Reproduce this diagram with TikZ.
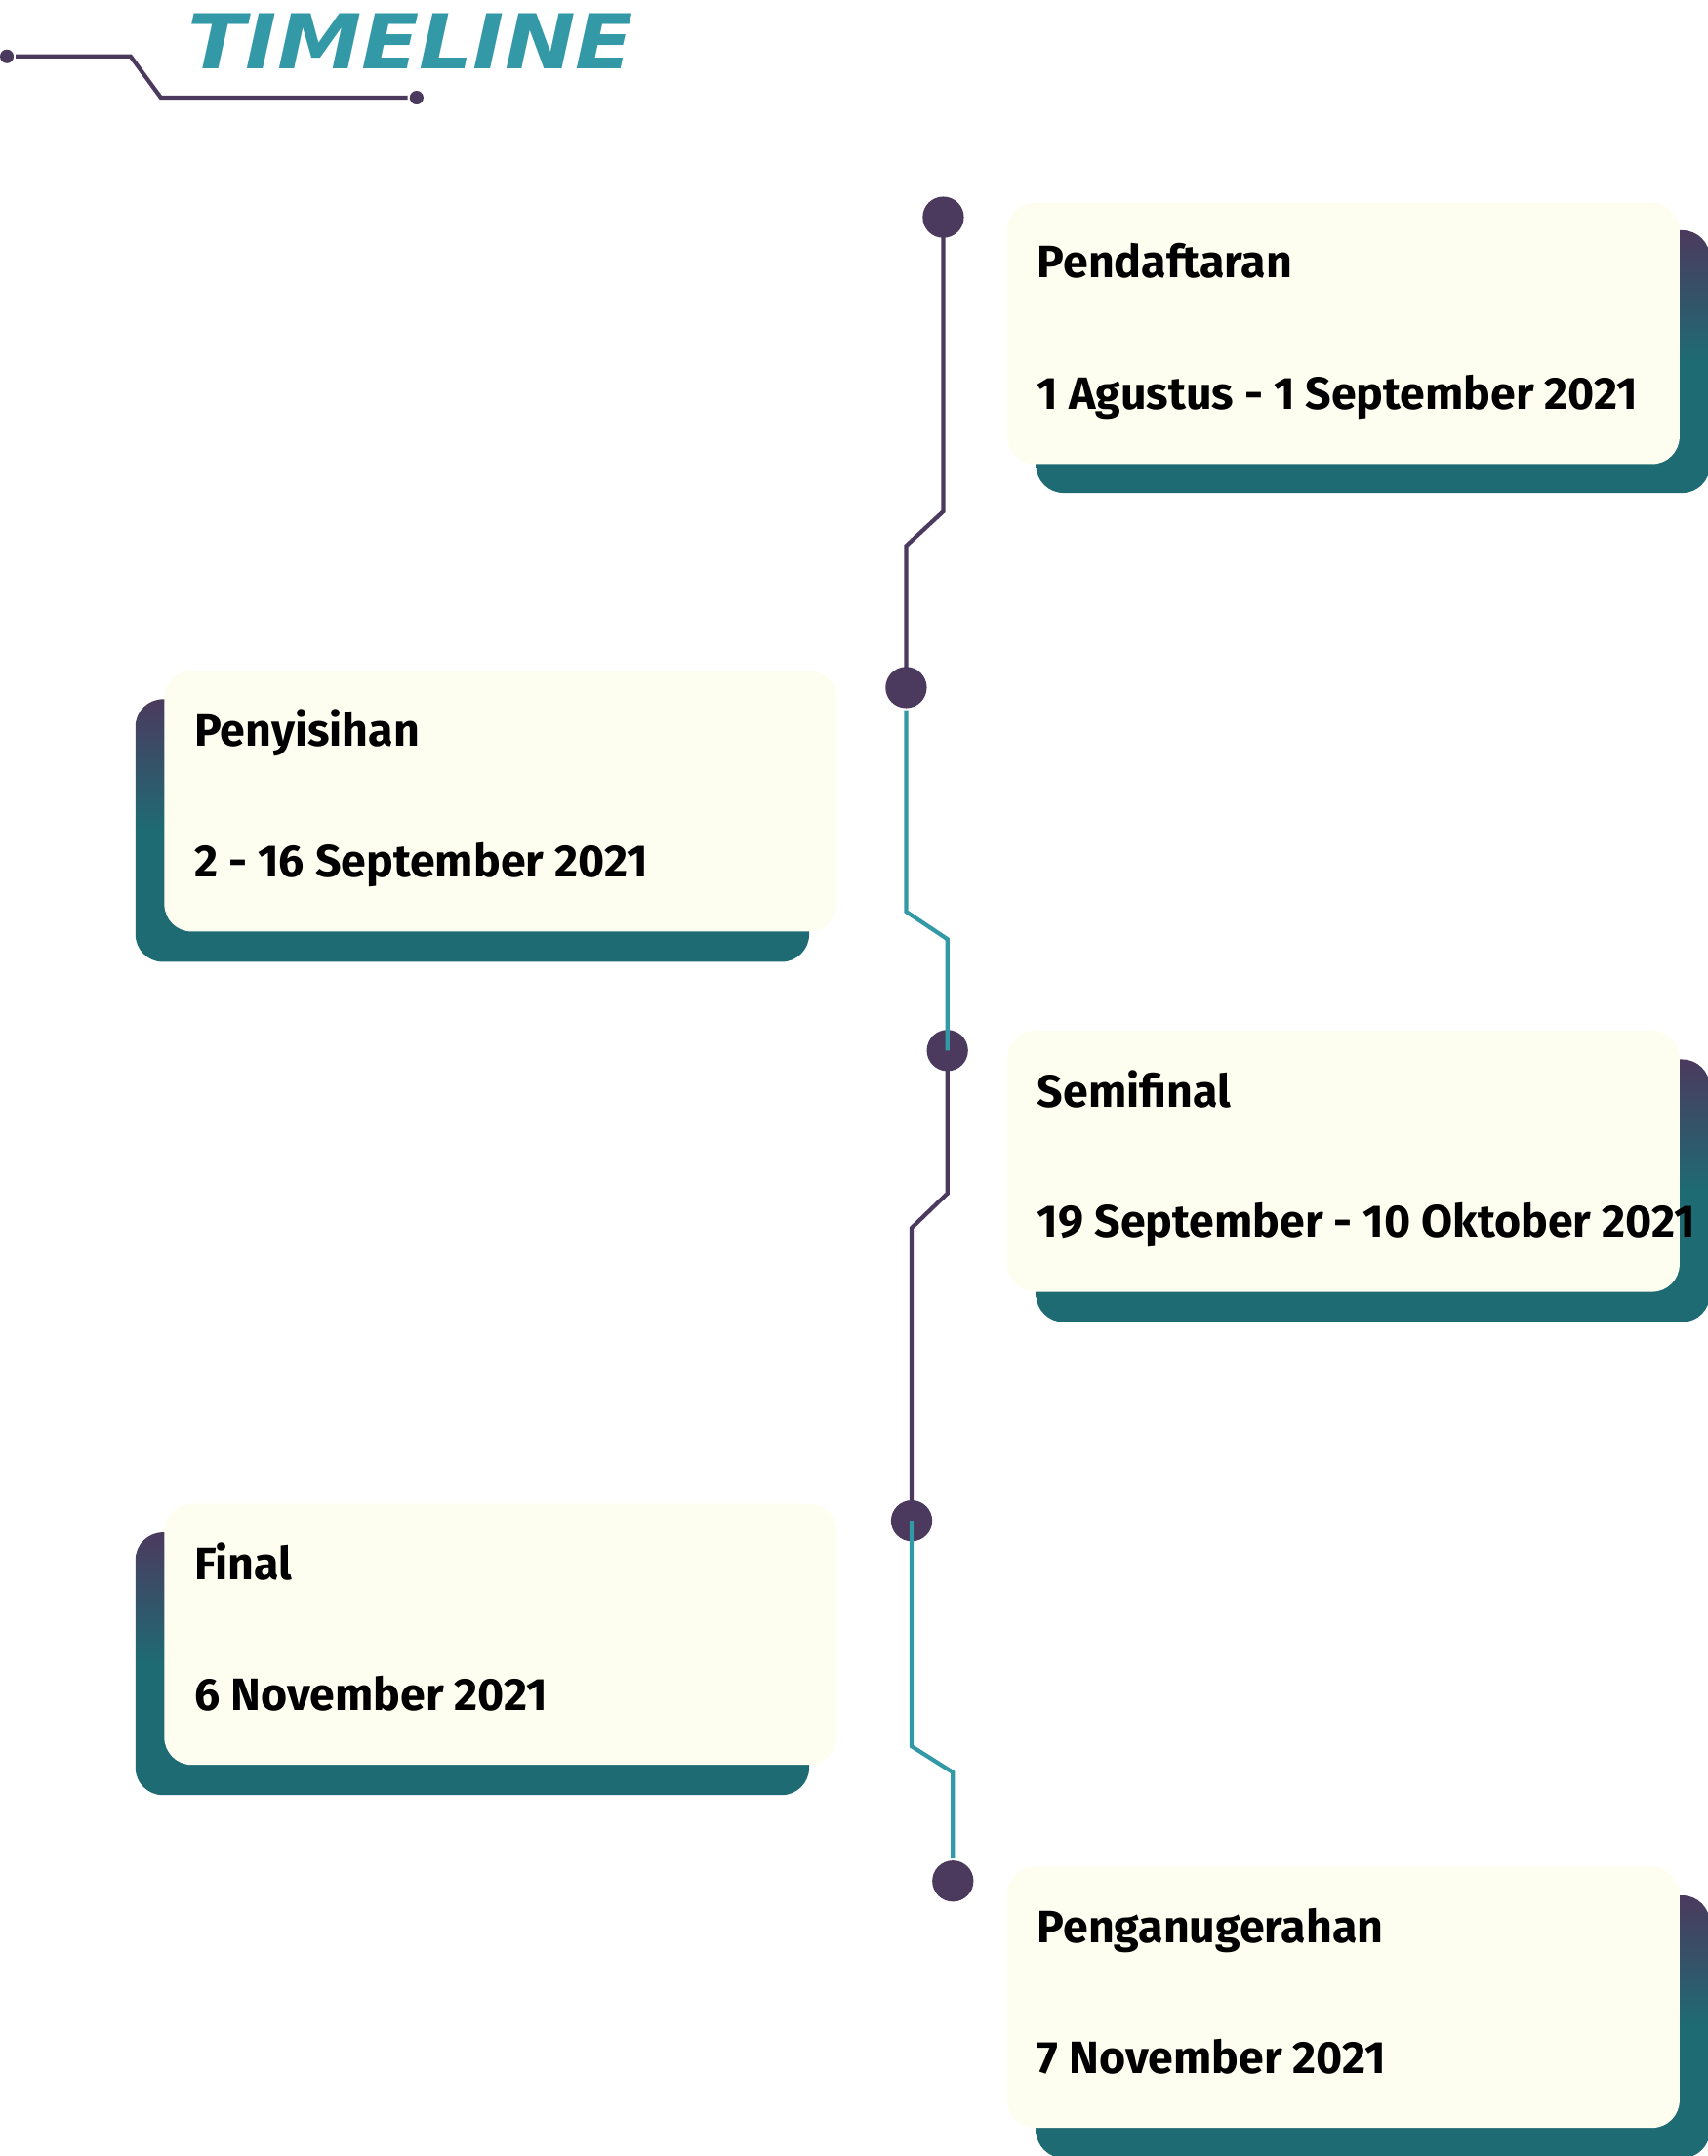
\documentclass[tikz,border=0pt]{standalone}
\usepackage{fontspec}
\setmainfont{Fira Sans}
\newfontfamily\titlefont{DejaVu Sans}
\usetikzlibrary{positioning}
\definecolor{tlpurple}{HTML}{4B3A5E}
\definecolor{tlteal}{HTML}{3399A6}
\definecolor{tldark}{HTML}{1E6B73}
\definecolor{tlcream}{HTML}{FEFEF0}
\begin{document}
\begin{tikzpicture}[x=1pt, y=-1pt, line width=3pt,
  event dot/.style={circle, fill=tlpurple, minimum size=30pt, inner sep=0pt},
  small dot/.style={circle, fill=tlpurple, minimum size=10pt, inner sep=0pt},
  event card/.style={fill=tlcream, rounded corners=20pt, minimum width=489pt, minimum height=190pt, inner sep=0pt, anchor=north west},
  card shadow/.style={top color=tlpurple, bottom color=tldark, middle color=tldark, rounded corners=20pt, minimum width=490pt, minimum height=191pt, inner sep=0pt, anchor=north west},
  event name/.style={anchor=base west, inner sep=0pt, font=\fontsize{33}{38}\selectfont\bfseries},
  purple line/.style={draw=tlpurple, line width=3pt},
  teal line/.style={draw=tlteal, line width=3pt}]
\useasboundingbox (0,0) rectangle (1242,1568);
% title
\node[anchor=base west, inner sep=0pt, text=tlteal, xscale=1.12, font=\titlefont\fontsize{55}{60}\selectfont\bfseries\itshape] (title) at (135,50) {TIMELINE};
\node[small dot] (ta) at (5,41) {};
\node[small dot] (tb) at (303,71) {};
\draw[purple line] (ta) -- (95,41) -- (117,71) -- (tb);
% cards
\begin{scope}
\node[card shadow] (s1) at (752,166) {};
\node[event card] (c1) at (731,146) {};
\node[event name] (n1) at (753,202) {Pendaftaran};
\node[event name] (d1) at (753,298) {1 Agustus - 1 September 2021};
\node[card shadow] (s2) at (97,507) {};
\node[event card] (c2) at (118,486) {};
\node[event name] (n2) at (140,543) {Penyisihan};
\node[event name] (d2) at (140,638) {2 - 16 September 2021};
\node[card shadow] (s3) at (752,769) {};
\node[event card] (c3) at (731,748) {};
\node[event name] (n3) at (753,805) {Semifinal};
\node[event name] (d3) at (753,900) {19 September - 10 Oktober 2021};
\node[card shadow] (s4) at (97,1113) {};
\node[event card] (c4) at (118,1092) {};
\node[event name] (n4) at (140,1149) {Final};
\node[event name] (d4) at (140,1244) {6 November 2021};
\node[card shadow] (s5) at (752,1377) {};
\node[event card] (c5) at (731,1356) {};
\node[event name] (n5) at (753,1413) {Penganugerahan};
\node[event name] (d5) at (753,1508) {7 November 2021};
\end{scope}
% timeline
\begin{scope}
\draw[purple line] (686,158) -- (686,372) -- (659,397) -- (659,500);
\draw[purple line] (689,764) -- (689,868) -- (663,893) -- (663,1106);
\node[event dot] (e1) at (686,158) {};
\node[event dot] (e2) at (659,500) {};
\node[event dot] (e3) at (689,764) {};
\node[event dot] (e4) at (663,1106) {};
\node[event dot] (e5) at (693,1368) {};
\draw[teal line] (e2.south) -- (659,663) -- (689,683) -- (e3.center);
\draw[teal line] (e4.center) -- (663,1270) -- (693,1289) -- (e5.north);
\end{scope}
\end{tikzpicture}
\end{document}
